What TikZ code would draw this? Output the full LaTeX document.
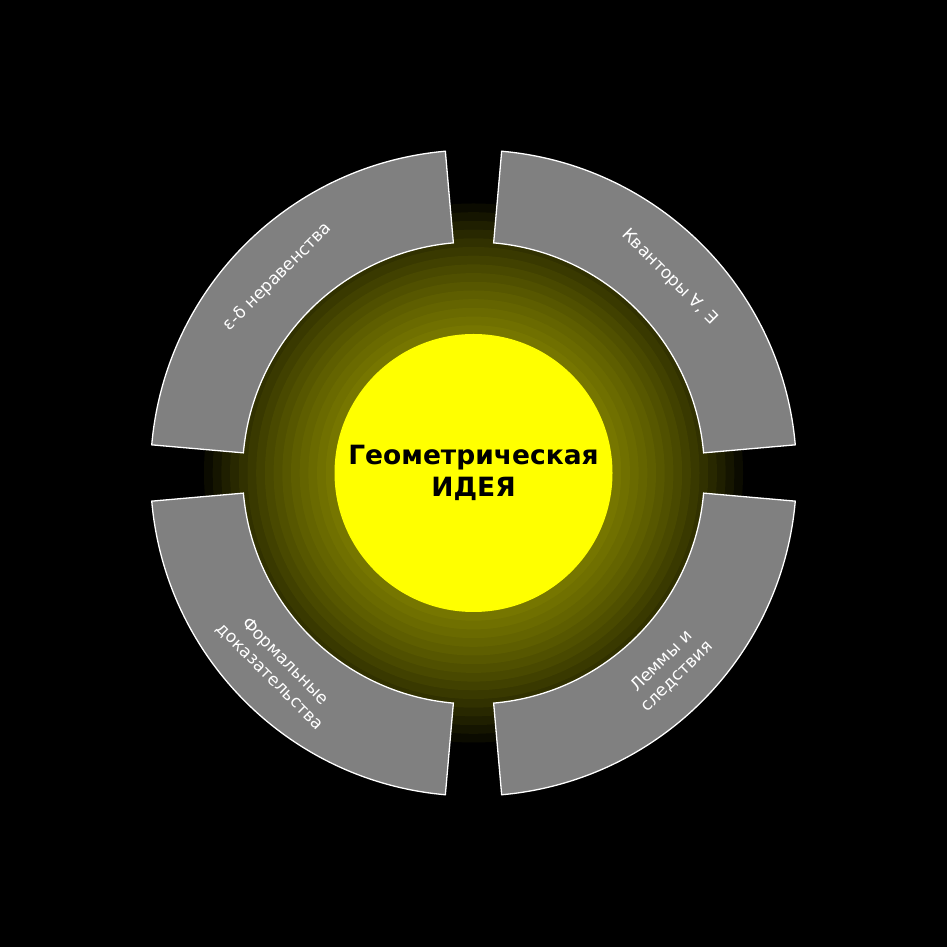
\documentclass[tikz,border=0pt]{standalone}
\usepackage{fontspec}
\setmainfont{DejaVu Sans}
\definecolor{sectorgray}{HTML}{808080}
\definecolor{glowyellow}{HTML}{FFFF00}
\begin{document}
\begin{tikzpicture}[
  sector/.style={fill=sectorgray, draw=white, line width=1.3pt, line join=miter},
  lab/.style={text=white, font=\fontsize{17}{21.5}\selectfont, align=center, inner sep=0pt},
  glowring/.style={fill=glowyellow, fill opacity=0.045},
  core/.style={circle, fill=glowyellow, minimum size=278pt, inner sep=0pt,
    font=\fontsize{26.5}{32}\selectfont\bfseries, align=center, text=black}
]
\fill[black] (0pt,0pt) rectangle (947pt,947pt);
\path[use as bounding box] (0pt,0pt) rectangle (947pt,947pt);
\coordinate (O) at (473.5pt,474pt);
\begin{scope}[shift={(O)}]
  \foreach \i in {1,...,15} {
    \fill[glowring] (0,0) circle[radius={139pt+8.7pt*\i}];
  }
  \foreach \a in {0,90,180,270} {
    \draw[sector] (\a+5:231pt) arc[start angle=\a+5, end angle=\a+85, radius=231pt]
      -- (\a+85:323pt) arc[start angle=\a+85, end angle=\a+5, radius=323pt] -- cycle;
  }
  \node[core] (c) at (0,0) {Геометрическая\\ИДЕЯ};
  \node[lab, rotate=45] (l1) at (135:277pt) {ε-δ неравенства};
  \node[lab, rotate=-45] (l2) at (45:277pt) {Кванторы ∀, ∃};
  \node[lab, rotate=-45] (l3) at (225:277pt) {Формальные\\доказательства};
  \node[lab, rotate=45] (l4) at (315:277pt) {Леммы и\\следствия};
\end{scope}
\end{tikzpicture}
\end{document}
